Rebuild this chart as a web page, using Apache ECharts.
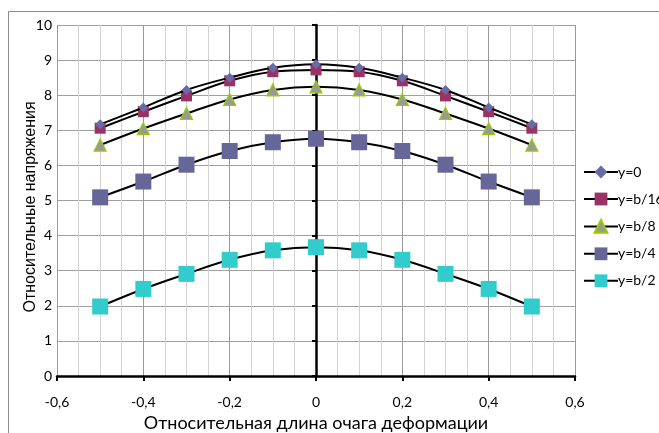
<!DOCTYPE html>
<html><head><meta charset="utf-8">
<script src="https://cdn.jsdelivr.net/npm/echarts@6/dist/echarts.min.js"></script>
<style>html,body{margin:0;padding:0;background:#fff}#c{width:659px;height:433px}</style>
</head><body><div id="c"></div>
<script>
const xValues = [-0.5, -0.4, -0.3, -0.2, -0.1, 0, 0.1, 0.2, 0.3, 0.4, 0.5];
const seriesNames = ['y=0', 'y=b/16', 'y=b/8', 'y=b/4', 'y=b/2'];
const y0   = [7.17, 7.65, 8.15, 8.50, 8.78, 8.88, 8.78, 8.50, 8.15, 7.65, 7.17];
const yB16 = [7.06, 7.53, 7.98, 8.41, 8.67, 8.72, 8.67, 8.41, 7.98, 7.53, 7.06];
const yB8  = [6.58, 7.05, 7.48, 7.88, 8.15, 8.24, 8.15, 7.88, 7.48, 7.05, 6.58];
const yB4  = [5.09, 5.54, 6.02, 6.41, 6.66, 6.76, 6.66, 6.41, 6.02, 5.54, 5.09];
const yB2  = [1.98, 2.48, 2.91, 3.31, 3.58, 3.67, 3.58, 3.31, 2.91, 2.48, 1.98];
const xTitle = 'Относительная длина очага деформации';
const yTitle = 'Относительные напряжения';

const styles = [
  {symbol:'diamond', size:10, color:'#6a6aa6', border:'#6a6aa6'},
  {symbol:'rect', size:11, color:'#993366', border:'#993366'},
  {symbol:'triangle', size:12, color:'#999999', border:'#99cc00'},
  {symbol:'rect', size:16, color:'#666699', border:'#666699'},
  {symbol:'rect', size:16, color:'#33cccc', border:'#33cccc'}
];
const allY = [y0, yB16, yB8, yB4, yB2];
const series = allY.map((ys, i) => ({
  name: seriesNames[i],
  type: 'line',
  smooth: 0.35,
  data: xValues.map((x, j) => [x, ys[j]]),
  symbol: styles[i].symbol,
  symbolSize: styles[i].size,
  showAllSymbol: true,
  lineStyle: {color:'#000', width:2},
  itemStyle: {color: styles[i].color, borderColor: styles[i].border, borderWidth: i===2?1.2:0},
  z: 10 - i
}));
series.reverse();

const chart = echarts.init(document.getElementById('c'), null, {renderer:'canvas'});
const fontTick = 'Lato, "Open Sans", sans-serif';
chart.setOption({
  animation: false,
  backgroundColor: '#fff',
  grid: {left:57, right:84, top:25, bottom:57, containLabel:false, outerBoundsMode:'none'},
  graphic: [
    {type:'rect', shape:{x:8.5, y:11.5, width:700, height:500}, style:{fill:'none', stroke:'#8c8c8c', lineWidth:1}, z:-10, silent:true},
    {type:'text', rotation:Math.PI/2, style:{text:yTitle, font:'16px "Liberation Sans", Arial, sans-serif', fill:'#000', align:'center', verticalAlign:'middle'}, x:31, y:207}
  ],
  legend: {
    orient:'vertical', left:578, top:160, itemGap:13, itemWidth:34, itemHeight:16,
    textStyle:{fontFamily:fontTick, fontSize:14, color:'#000', padding:[0,0,0,-5], overflow:'none', width:80},
    backgroundColor:'#fff',
    data: seriesNames
  },
  xAxis: {
    type:'value', min:-0.6, max:0.6, interval:0.2,
    name: xTitle, nameLocation:'middle', nameGap:37,
    nameTextStyle:{fontFamily:fontTick, fontSize:18, color:'#000'},
    axisLine:{show:true, onZero:false, lineStyle:{color:'#000', width:2.5}},
    axisTick:{show:true, inside:false, length:5, lineStyle:{color:'#000', width:2}},
    axisLabel:{fontFamily:fontTick, fontSize:14, color:'#000', margin:19,
      formatter: v => String(Math.round(v*10)/10).replace('.', ',')},
    splitLine:{show:true, lineStyle:{color:'#9a9a9a', width:1}},
    minorTick:{show:false, splitNumber:4},
    minorSplitLine:{show:true, lineStyle:{color:'#d2d2d2', width:1}}
  },
  yAxis: {
    type:'value', min:0, max:10, interval:1,
    axisLine:{show:true, onZero:true, lineStyle:{color:'#000', width:2.5}},
    axisTick:{show:true, inside:false, length:4, lineStyle:{color:'#000', width:2}},
    axisLabel:{fontFamily:fontTick, fontSize:14, color:'#000', margin:5},
    splitLine:{show:true, lineStyle:{color:'#a0a0a0', width:1}}
  },
  series: series
});
</script></body></html>
